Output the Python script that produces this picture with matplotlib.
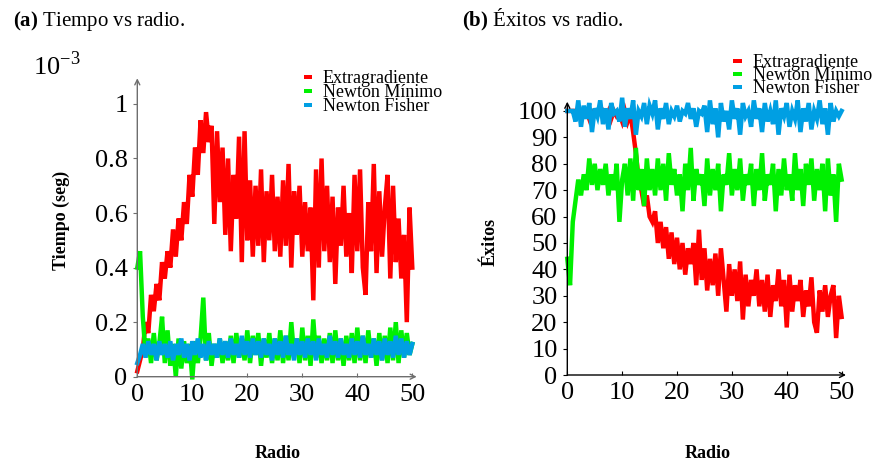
import numpy as np
import matplotlib
matplotlib.use("Agg")
import matplotlib.pyplot as plt
from matplotlib.patches import Rectangle

plt.rcParams['font.family'] = ['Liberation Serif', 'DejaVu Serif']
plt.rcParams['mathtext.fontset'] = 'custom'
plt.rcParams['mathtext.rm'] = 'Liberation Serif'
plt.rcParams['mathtext.bf'] = 'Liberation Serif:bold'

# ---------------- data (radio 0..50, paso 0.5) ----------------
series_names = ["Extragradiente", "Newton Mínimo", "Newton Fisher"]
series_colors = ["#ff0000", "#00f000", "#009fe3"]

tiempo_extra = [
    0.02, 0.06, 0.10, 0.20, 0.16, 0.30, 0.24, 0.34, 0.28, 0.42, 0.36,
    0.46, 0.40, 0.54, 0.44, 0.58, 0.50, 0.64, 0.56, 0.74, 0.66,
    0.84, 0.74, 0.94, 0.82, 0.97, 0.86, 0.92, 0.56, 0.90, 0.64,
    0.84, 0.52, 0.80, 0.46, 0.74, 0.58, 0.88, 0.42, 0.90, 0.50,
    0.72, 0.44, 0.70, 0.48, 0.76, 0.42, 0.68, 0.50, 0.74, 0.46,
    0.66, 0.44, 0.72, 0.48, 0.78, 0.40, 0.68, 0.52, 0.70, 0.44,
    0.64, 0.46, 0.62, 0.28, 0.76, 0.40, 0.80, 0.46, 0.70, 0.42,
    0.66, 0.34, 0.62, 0.48, 0.70, 0.44, 0.60, 0.38, 0.74, 0.46,
    0.76, 0.40, 0.30, 0.64, 0.46, 0.78, 0.38, 0.68, 0.44, 0.62,
    0.74, 0.36, 0.70, 0.42, 0.58, 0.36, 0.52, 0.20, 0.62, 0.40,
]
tiempo_min = [
    0.40, 0.46, 0.22, 0.08, 0.14, 0.05, 0.16, 0.06, 0.12, 0.22, 0.05,
    0.17, 0.04, 0.12, 0.00, 0.14, 0.03, 0.13, 0.05, 0.12, -0.01,
    0.13, 0.05, 0.14, 0.29, 0.06, 0.16, 0.04, 0.12, 0.07, 0.14,
    0.05, 0.13, 0.06, 0.15, 0.05, 0.16, 0.07, 0.14, 0.06, 0.17,
    0.05, 0.15, 0.08, 0.16, 0.04, 0.14, 0.07, 0.16, 0.05, 0.14,
    0.06, 0.17, 0.05, 0.15, 0.06, 0.20, 0.08, 0.14, 0.05, 0.18,
    0.06, 0.15, 0.04, 0.21, 0.07, 0.15, 0.05, 0.14, 0.06, 0.16,
    0.05, 0.17, 0.06, 0.14, 0.04, 0.15, 0.06, 0.16, 0.05, 0.18,
    0.06, 0.15, 0.05, 0.17, 0.07, 0.14, 0.04, 0.16, 0.06, 0.15,
    0.05, 0.18, 0.06, 0.20, 0.05, 0.17, 0.07, 0.16, 0.08, 0.12,
]
tiempo_fisher = [
    0.05, 0.08, 0.12, 0.07, 0.13, 0.08, 0.12, 0.06, 0.13, 0.08, 0.12,
    0.07, 0.13, 0.06, 0.12, 0.08, 0.14, 0.07, 0.12, 0.06, 0.13,
    0.08, 0.14, 0.07, 0.12, 0.06, 0.13, 0.08, 0.12, 0.07, 0.14,
    0.08, 0.13, 0.07, 0.14, 0.08, 0.12, 0.07, 0.15, 0.08, 0.13,
    0.07, 0.14, 0.08, 0.13, 0.07, 0.14, 0.08, 0.12, 0.06, 0.14,
    0.08, 0.13, 0.07, 0.15, 0.08, 0.12, 0.06, 0.14, 0.08, 0.13,
    0.07, 0.14, 0.08, 0.13, 0.06, 0.14, 0.08, 0.12, 0.07, 0.15,
    0.08, 0.13, 0.07, 0.14, 0.08, 0.12, 0.07, 0.14, 0.08, 0.13,
    0.07, 0.15, 0.08, 0.12, 0.07, 0.14, 0.08, 0.13, 0.06, 0.14,
    0.08, 0.13, 0.07, 0.15, 0.08, 0.14, 0.07, 0.13, 0.08, 0.12,
]

exitos_extra = [
    100, 100, 100, 100, 100, 100, 99, 100, 97, 100, 100,
    100, 99, 100, 98, 100, 97, 100, 98, 99, 96,
    100, 96, 99, 92, 84, 74, 70, 64, 68, 60,
    58, 62, 50, 58, 48, 56, 44, 54, 42, 52,
    40, 50, 38, 48, 42, 50, 34, 55, 36, 48,
    32, 44, 34, 46, 30, 48, 36, 24, 42, 30,
    40, 28, 43, 21, 38, 26, 36, 30, 40, 26,
    36, 24, 38, 22, 34, 28, 40, 26, 36, 18,
    38, 24, 34, 28, 36, 22, 32, 26, 37, 20,
    16, 32, 24, 34, 22, 30, 34, 14, 30, 22,
]
exitos_min = [
    44, 34, 58, 66, 74, 68, 76, 70, 82, 72, 80,
    70, 78, 72, 80, 68, 76, 70, 80, 58, 74,
    80, 68, 82, 66, 86, 70, 78, 64, 82, 70,
    78, 68, 82, 70, 80, 66, 84, 72, 78, 68,
    76, 62, 80, 70, 86, 66, 78, 72, 76, 64,
    82, 68, 78, 70, 80, 62, 76, 72, 84, 68,
    78, 70, 82, 66, 76, 72, 80, 64, 78, 70,
    84, 66, 76, 72, 80, 62, 78, 68, 82, 70,
    76, 66, 84, 70, 78, 64, 80, 72, 82, 66,
    78, 70, 80, 62, 82, 68, 76, 58, 80, 74,
]
exitos_fisher = [
    100, 100, 100, 96, 104, 94, 102, 97, 103, 92, 101,
    98, 104, 95, 101, 93, 103, 99, 100, 96, 105,
    94, 101, 97, 104, 91, 100, 98, 103, 95, 102,
    99, 104, 93, 101, 97, 103, 95, 100, 98, 102,
    96, 100, 99, 103, 97, 101, 94, 100, 99, 102,
    92, 104, 95, 101, 90, 103, 96, 100, 93, 104,
    97, 101, 91, 103, 98, 100, 94, 104, 97, 101,
    92, 103, 96, 100, 95, 104, 91, 101, 98, 103,
    94, 100, 97, 104, 92, 101, 96, 103, 93, 100,
    97, 104, 95, 101, 91, 103, 96, 100, 98, 100,
]

x_ticks = [0, 10, 20, 30, 40, 50]
y_ticks_a = [0, 0.2, 0.4, 0.6, 0.8, 1.0]
y_ticklabels_a = ["0", "0.2", "0.4", "0.6", "0.8", "1"]
y_ticks_b = [0, 10, 20, 30, 40, 50, 60, 70, 80, 90, 100]

W, H = 883, 462
fig = plt.figure(figsize=(W / 100, H / 100), dpi=100)


def fx(x):
    return x / W


def fy(y):
    return 1 - y / H


def make_axes(x0, y0, x1, y1, ylim, axcolor):
    ax = fig.add_axes([fx(x0), fy(y0), fx(x1) - fx(x0), fy(y1) - fy(y0)])
    ax.set_xlim(0, 50.8)
    ax.set_ylim(*ylim)
    for s in ax.spines.values():
        s.set_visible(False)
    ax.annotate('', xy=(1, 0), xytext=(0, 0), xycoords='axes fraction',
                arrowprops=dict(arrowstyle='->', color=axcolor, lw=1.0,
                                shrinkA=0, shrinkB=0, mutation_scale=9))
    ax.annotate('', xy=(0, 1), xytext=(0, 0), xycoords='axes fraction',
                arrowprops=dict(arrowstyle='->', color=axcolor, lw=1.0,
                                shrinkA=0, shrinkB=0, mutation_scale=9))
    ax.tick_params(axis='x', direction='in', length=3, width=0.8, color=axcolor,
                   labelsize=19, pad=5)
    ax.tick_params(axis='y', direction='out', length=3, width=0.8, color=axcolor,
                   labelsize=19, pad=4)
    ax.set_facecolor('none')
    return ax


LW = 3.2

# ---------------- panel (a) ----------------
ax1 = make_axes(137.3, 376.7, 416.7, 78.3, (0, 1.094), '#6e6e6e')
r = np.linspace(0, 50, len(tiempo_extra))
for vals, c in zip([tiempo_extra, tiempo_min, tiempo_fisher], series_colors):
    ax1.plot(r, vals, color=c, lw=LW, clip_on=False, solid_joinstyle='miter')
ax1.set_xticks(x_ticks)
ax1.set_xticklabels([str(v) for v in x_ticks])
ax1.set_yticks(y_ticks_a)
ax1.set_yticklabels(y_ticklabels_a)

# ---------------- panel (b) ----------------
ax2 = make_axes(567.3, 375.0, 846.0, 101.7, (0, 103.5), '#000000')
r = np.linspace(0, 50, len(exitos_extra))
for vals, c in zip([exitos_extra, exitos_min, exitos_fisher], series_colors):
    ax2.plot(r, vals, color=c, lw=LW, clip_on=False, solid_joinstyle='miter')
ax2.set_xticks(x_ticks)
ax2.set_xticklabels([str(v) for v in x_ticks])
ax2.set_yticks(y_ticks_b)
ax2.set_yticklabels([str(v) for v in y_ticks_b])

# ---------------- labels ----------------
fig.text(fx(61), fy(220), "Tiempo (seg)", rotation=90, fontsize=13,
         fontweight='bold', ha='center', va='center')
fig.text(fx(490), fy(242), "Éxitos", rotation=90, fontsize=13,
         fontweight='bold', ha='center', va='center')
fig.text(fx(278), fy(453), "Radio", fontsize=13, fontweight='bold',
         ha='center', va='center')
fig.text(fx(708), fy(453), "Radio", fontsize=13, fontweight='bold',
         ha='center', va='center')
fig.text(fx(33), fy(75), r"$10^{-3}$", fontsize=19, ha='left', va='baseline')

fig.text(fx(13), fy(26), r"$\mathbf{(a)}$ Tiempo vs radio.", fontsize=15,
         ha='left', va='baseline')
fig.text(fx(462), fy(26), r"$\mathbf{(b)}$ Éxitos vs radio.", fontsize=15,
         ha='left', va='baseline')


# ---------------- legends ----------------
def legend(hx0, hx1, tx, centers):
    for name, c, yc in zip(series_names, series_colors, centers):
        fig.add_artist(Rectangle((fx(hx0), fy(yc + 2)), fx(hx1) - fx(hx0),
                                 fy(yc - 2) - fy(yc + 2), transform=fig.transFigure,
                                 color=c, lw=0))
        fig.text(fx(tx), fy(yc + 6), name, fontsize=13, ha='left', va='baseline')


legend(304, 312, 323, [77, 91, 105])
legend(733, 742, 753, [61, 74, 87])

fig.savefig("out.png", dpi=100)
